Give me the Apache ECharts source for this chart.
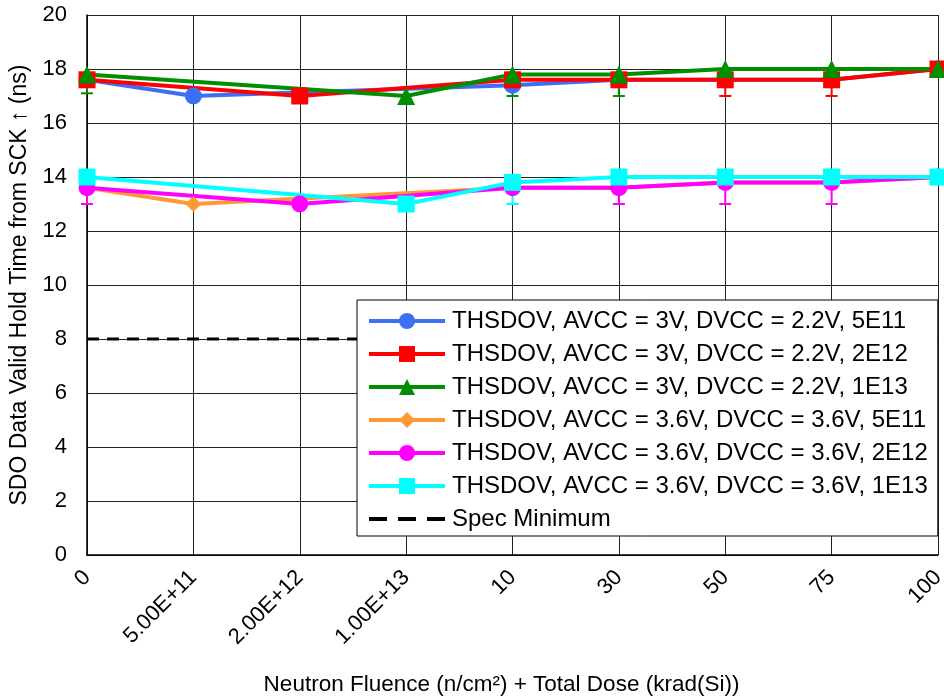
<!DOCTYPE html>
<html>
<head>
<meta charset="utf-8">
<script src="https://cdn.jsdelivr.net/npm/echarts@6/dist/echarts.min.js"></script>
<style>
  html, body { margin: 0; padding: 0; background: #fff; }
  #chart { width: 944px; height: 699px; }
</style>
</head>
<body>
<div id="chart"></div>
<script>
// categories on the x axis
const categories = ['0', '5.00E+11', '2.00E+12', '1.00E+13', '10', '30', '50', '75', '100'];

// THSDOV values (ns), null where a run has no point
const blue5E11    = [17.6, 17.0, null, null, 17.4, 17.6, 17.6, 17.6, 18.0];
const red2E12     = [17.6, null, 17.0, null, 17.6, 17.6, 17.6, 17.6, 18.0];
const green1E13   = [17.8, null, null, 17.0, 17.8, 17.8, 18.0, 18.0, 18.0];
const orange5E11  = [13.6, 13.0, null, null, 13.6, 13.6, 13.8, 13.8, 14.0];
const magenta2E12 = [13.6, null, 13.0, null, 13.6, 13.6, 13.8, 13.8, 14.0];
const cyan1E13    = [14.0, null, null, 13.0, 13.8, 14.0, 14.0, 14.0, 14.0];
const specMin     = [8, 8, 8, 8, 8, 8, 8, 8, 8];

// lower error bar ends (ns)
const greenLow   = [17.1, null, null, null, 17.0, 17.0, null, null, null];
const redLow     = [null, null, null, null, null, null, 17.0, 17.0, null];
const magentaLow = [13.0, null, null, null, null, 13.0, 13.0, 13.0, null];
const cyanLow    = [null, null, null, null, 13.0, null, null, null, null];

const names = [
    'THSDOV, AVCC = 3V, DVCC = 2.2V, 5E11',
    'THSDOV, AVCC = 3V, DVCC = 2.2V, 2E12',
    'THSDOV, AVCC = 3V, DVCC = 2.2V, 1E13',
    'THSDOV, AVCC = 3.6V, DVCC = 3.6V, 5E11',
    'THSDOV, AVCC = 3.6V, DVCC = 3.6V, 2E12',
    'THSDOV, AVCC = 3.6V, DVCC = 3.6V, 1E13',
    'Spec Minimum'
];

const font = 'Liberation Sans, Arial, sans-serif';

function lineSeries(name, data, color, symbol, size) {
    return {
        name: name,
        type: 'line',
        data: data,
        connectNulls: true,
        symbol: symbol,
        symbolSize: size,
        showAllSymbol: true,
        lineStyle: {color: color, width: 4},
        itemStyle: {color: color},
        emphasis: {disabled: true},
        z: 3
    };
}

function errorSeries(lows, vals, color) {
    const data = [];
    lows.forEach((lo, i) => {
        if (lo != null) data.push([i, vals[i], lo]);
    });
    return {
        type: 'custom',
        data: data,
        z: 2,
        silent: true,
        renderItem: function (params, api) {
            const top = api.coord([api.value(0), api.value(1)]);
            const bot = api.coord([api.value(0), api.value(2)]);
            const style = {stroke: color, lineWidth: 2};
            return {
                type: 'group',
                children: [
                    {type: 'line', shape: {x1: top[0], y1: top[1], x2: bot[0], y2: bot[1]}, style: style},
                    {type: 'line', shape: {x1: bot[0] - 6, y1: bot[1], x2: bot[0] + 6, y2: bot[1]}, style: style}
                ]
            };
        }
    };
}

// spec minimum: dashes only in the legend, no marker
const legendData = names.map((n, i) => i === 6
    ? {name: n, itemStyle: {opacity: 0}, lineStyle: {type: [18, 11]}}
    : {name: n});

const chart = echarts.init(document.getElementById('chart'));
chart.setOption({
    animation: false,
    backgroundColor: '#fff',
    grid: {left: 87, right: 6, top: 15, bottom: 144, outerBoundsMode: 'none', containLabel: false},
    legend: {
        data: legendData,
        orient: 'vertical',
        left: 357,
        top: 300,
        padding: [9, 10, 5, 10],
        itemWidth: 76,
        itemHeight: 20,
        itemGap: 9,
        backgroundColor: '#fff',
        borderColor: '#000',
        borderWidth: 1,
        borderRadius: 0,
        lineStyle: {width: 4},
        textStyle: {fontFamily: font, fontSize: 24, color: '#000', padding: [0, 0, 0, 2]}
    },
    xAxis: {
        type: 'category',
        data: categories,
        boundaryGap: false,
        name: 'Neutron Fluence (n/cm²) + Total Dose (krad(Si))',
        nameLocation: 'middle',
        nameGap: 118,
        nameTextStyle: {fontFamily: font, fontSize: 22.5, color: '#000', padding: [0, 22, 0, 0]},
        axisLine: {lineStyle: {color: '#000', width: 1.5}},
        axisTick: {show: false},
        axisLabel: {rotate: 45, fontFamily: font, fontSize: 22, color: '#000', margin: 19},
        splitLine: {show: true, lineStyle: {color: '#222', width: 1}}
    },
    yAxis: {
        type: 'value',
        min: 0,
        max: 20,
        interval: 2,
        name: 'SDO Data Valid Hold Time from SCK ↑ (ns)',
        nameLocation: 'middle',
        nameGap: 53,
        nameTextStyle: {fontFamily: font, fontSize: 23, color: '#000'},
        axisLine: {show: true, lineStyle: {color: '#000', width: 1.5}},
        axisTick: {show: false},
        axisLabel: {fontFamily: font, fontSize: 22, color: '#000', margin: 20},
        splitLine: {show: true, lineStyle: {color: '#222', width: 1}}
    },
    series: [
        errorSeries(greenLow, green1E13, '#008f00'),
        errorSeries(redLow, red2E12, '#ff0000'),
        errorSeries(magentaLow, magenta2E12, '#ff00ff'),
        errorSeries(cyanLow, cyan1E13, '#00ffff'),
        {
            name: names[6],
            type: 'line',
            data: specMin,
            symbol: 'none',
            lineStyle: {color: '#000', width: 3, type: [12, 8]},
            itemStyle: {color: '#000'},
            emphasis: {disabled: true},
            z: 2
        },
        lineSeries(names[0], blue5E11, '#3d6ff5', 'circle', 17),
        lineSeries(names[1], red2E12, '#ff0000', 'rect', 17),
        lineSeries(names[2], green1E13, '#008f00', 'triangle', 18),
        lineSeries(names[3], orange5E11, '#ff9933', 'diamond', 16),
        lineSeries(names[4], magenta2E12, '#ff00ff', 'circle', 17),
        lineSeries(names[5], cyan1E13, '#00ffff', 'rect', 17)
    ]
});
</script>
</body>
</html>
